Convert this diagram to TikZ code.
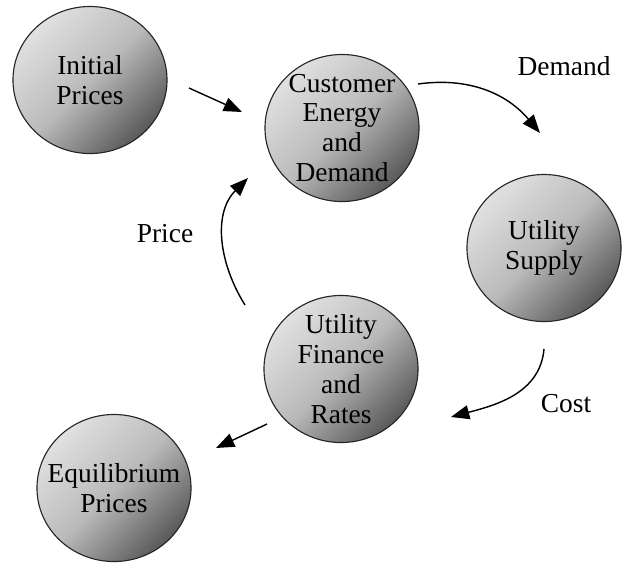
\documentclass[tikz,border=0pt]{standalone}
\usepackage{fontspec}
\setmainfont{Liberation Serif}
\usetikzlibrary{arrows.meta,shapes.geometric}
\tikzstyle{stage}=[ellipse,draw=black!85,line width=0.8pt,minimum width=3.85cm,minimum height=3.675cm,inner sep=0pt,top color=black!12,bottom color=black!65,middle color=black!27,shading angle=45]
\tikzstyle{txt}=[align=center,font=\fontsize{19.5}{21.3}\selectfont]
\tikzstyle{flow}=[line width=1pt,-{Triangle[length=13pt,width=10pt]}]

\begin{document}
\begin{tikzpicture}[x=0.025cm,y=0.025cm]
\useasboundingbox (0,0) rectangle (623,-562);
\node[stage,label={[txt]center:{Initial\\Prices}}] at (90,-80) (init) {};
\node[stage,label={[txt]center:{Customer\\Energy\\and\\Demand}}] at (342,-128) (cust) {};
\node[stage,label={[txt]center:{Utility\\Supply}}] at (544,-248) (supp) {};
\node[stage,label={[txt]center:{Utility\\Finance\\and\\Rates}}] at (341,-369) (fin) {};
\node[stage,label={[txt]center:{Equilibrium\\Prices}}] at (114,-488) (equi) {};
% free ends of the arrows
\coordinate (init-a) at (189,-88);
\coordinate (init-b) at (242,-112);
\coordinate (dem-a) at (418,-84);
\coordinate (dem-b) at (540,-133);
\coordinate (cost-a) at (544,-349);
\coordinate (cost-b) at (451,-417);
\coordinate (pri-a) at (245,-305);
\coordinate (pri-b) at (248,-178);
\coordinate (equi-a) at (267,-424);
\coordinate (equi-b) at (216,-448);
\node[txt,anchor=base] at (564,-75) (dem) {Demand};
\node[txt,anchor=base] at (165,-242) (pri) {Price};
\node[txt,anchor=base] at (566,-412) (cost) {Cost};
\draw[flow] (init-a) -- (init-b);
\draw[flow] (dem-a) to[out=8,in=130] (dem-b);
\draw[flow] (cost-a) to[out=-95,in=15] (cost-b);
\draw[flow] (pri-a) to[out=122,in=-135] (pri-b);
\draw[flow] (equi-a) -- (equi-b);
\end{tikzpicture}
\end{document}
